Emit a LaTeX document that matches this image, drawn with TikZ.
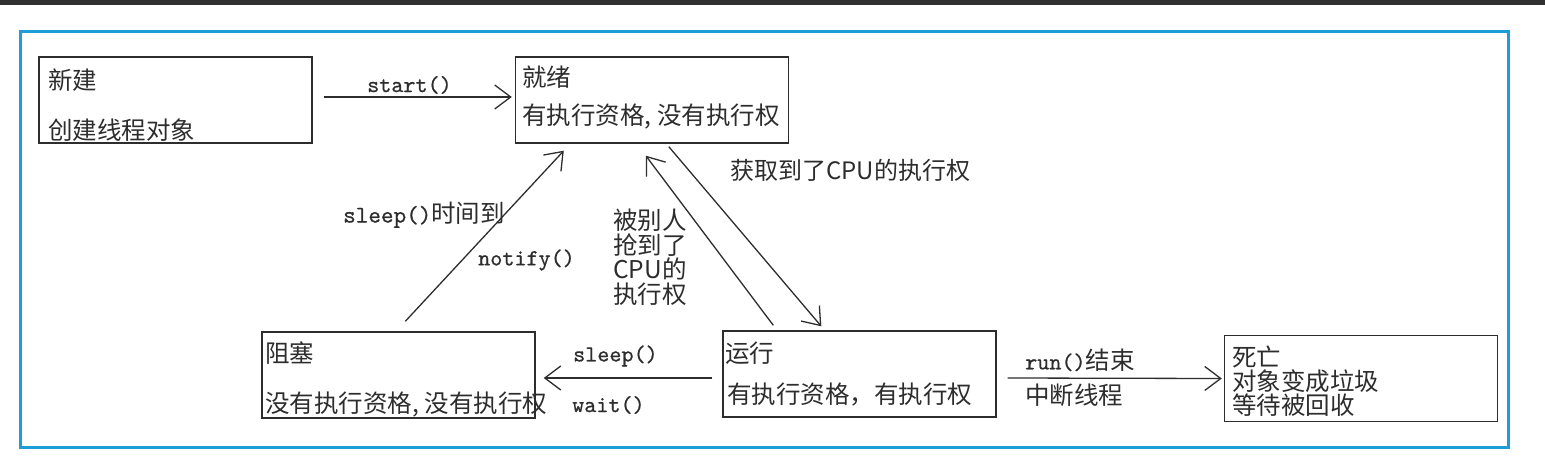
\documentclass[tikz,border=0pt]{standalone}
\usepackage{fontspec}
\newfontfamily\cjk{Noto Sans CJK SC}
\newfontfamily\codefam{lmmono10-regular}[Extension=.otf,FakeBold=0.7]
\usetikzlibrary{arrows.meta,calc}
\definecolor{frameblue}{RGB}{30,158,215}
\definecolor{ink}{RGB}{45,45,45}
\definecolor{topbar}{RGB}{48,48,48}
\newcommand\codef{\codefam\fontsize{23}{23}\selectfont}
\newcommand\cm{,\kern6pt}
\begin{document}
\begin{tikzpicture}[x=1pt,y=-1pt,
  statebox/.style={draw=ink,line width=1.4pt,inner sep=0pt,minimum width=273pt,minimum height=86pt},
  lbl/.style={anchor=west,inner sep=0pt,text=ink,font=\cjk\fontsize{24.5}{24.5}\selectfont,align=left},
  code/.style={anchor=west,inner sep=0pt,text=ink,font=\codef},
  arr/.style={draw=ink,line width=1.3pt,-{Straight Barb[length=16pt,width=24pt]}}]
\useasboundingbox (0,0) rectangle (1545,461);
\fill[topbar] (0,0) rectangle (1545,5);
\draw[frameblue,line width=3pt] (20.5,31) rectangle (1508,447);
% state boxes
\node[statebox] (new) at (175.5,100) {};
\node[statebox] (ready) at (652,100) {};
\node[statebox] (blocked) at (398.5,375) {};
\node[statebox] (running) at (859.5,374) {};
\node[statebox] (dead) at (1361,378.5) {};
% box texts
\node[lbl] (newA) at (48,80) {新建};
\node[lbl] (newB) at (48,130) {创建线程对象};
\node[lbl] (readyA) at (522,77) {就绪};
\node[lbl] (readyB) at (522,117) {有执行资格\cm 没有执行权};
\node[lbl] (blockA) at (265,353) {阻塞};
\node[lbl] (blockB) at (265,405) {没有执行资格\cm 没有执行权};
\node[lbl] (runA) at (725,353) {运行};
\node[lbl] (runB) at (727,395) {有执行资格，有执行权};
\node[lbl,font=\cjk\fontsize{24.5}{24}\selectfont] (deadT) at (1232,381) {死亡\\对象变成垃圾\\等待被回收};
% connector labels
\node[code] (lstart) at (367,85) {start()};
\node[lbl,font=\cjk\fontsize{24}{24}\selectfont] (lget) at (730,170) {获取到了CPU的执行权};
\node[lbl,font=\cjk\fontsize{24.5}{24.5}\selectfont] (lrob) at (613,257) {被别人\\抢到了\\CPU的\\执行权};
\node[lbl] (lsleeptime) at (343,215) {{\codefam\fontsize{24}{24}\selectfont sleep()}时间到};
\node[code] (lnotify) at (478,260) {notify()};
\node[code] (lsleep) at (573,356) {sleep()};
\node[code] (lwait) at (572,405) {wait()};
\node[lbl] (lrun) at (1025,360) {{\codef run()}结束};
\node[lbl] (lint) at (1025,395) {中断线程};
% connectors
\draw[arr] ($(new.east)+(11,-3)$) -- ($(ready.west)+(-3,-3)$);
\draw[arr] ($(ready.south west)+(154,3)$) -- ($(running.north west)+(99,-4)$);
\draw[arr] ($(running.north west)+(51,-5)$) -- ($(ready.south west)+(131,12)$);
\draw[arr] ($(blocked.north west)+(144,-10)$) -- ($(ready.south west)+(49,7)$);
\draw[arr] ($(running.west)+(-10,4)$) -- ($(blocked.east)+(8,3)$);
\draw[arr] ($(running.east)+(11,4)$) -- ($(dead.west)+(-2,0)$);
\end{tikzpicture}
\end{document}
